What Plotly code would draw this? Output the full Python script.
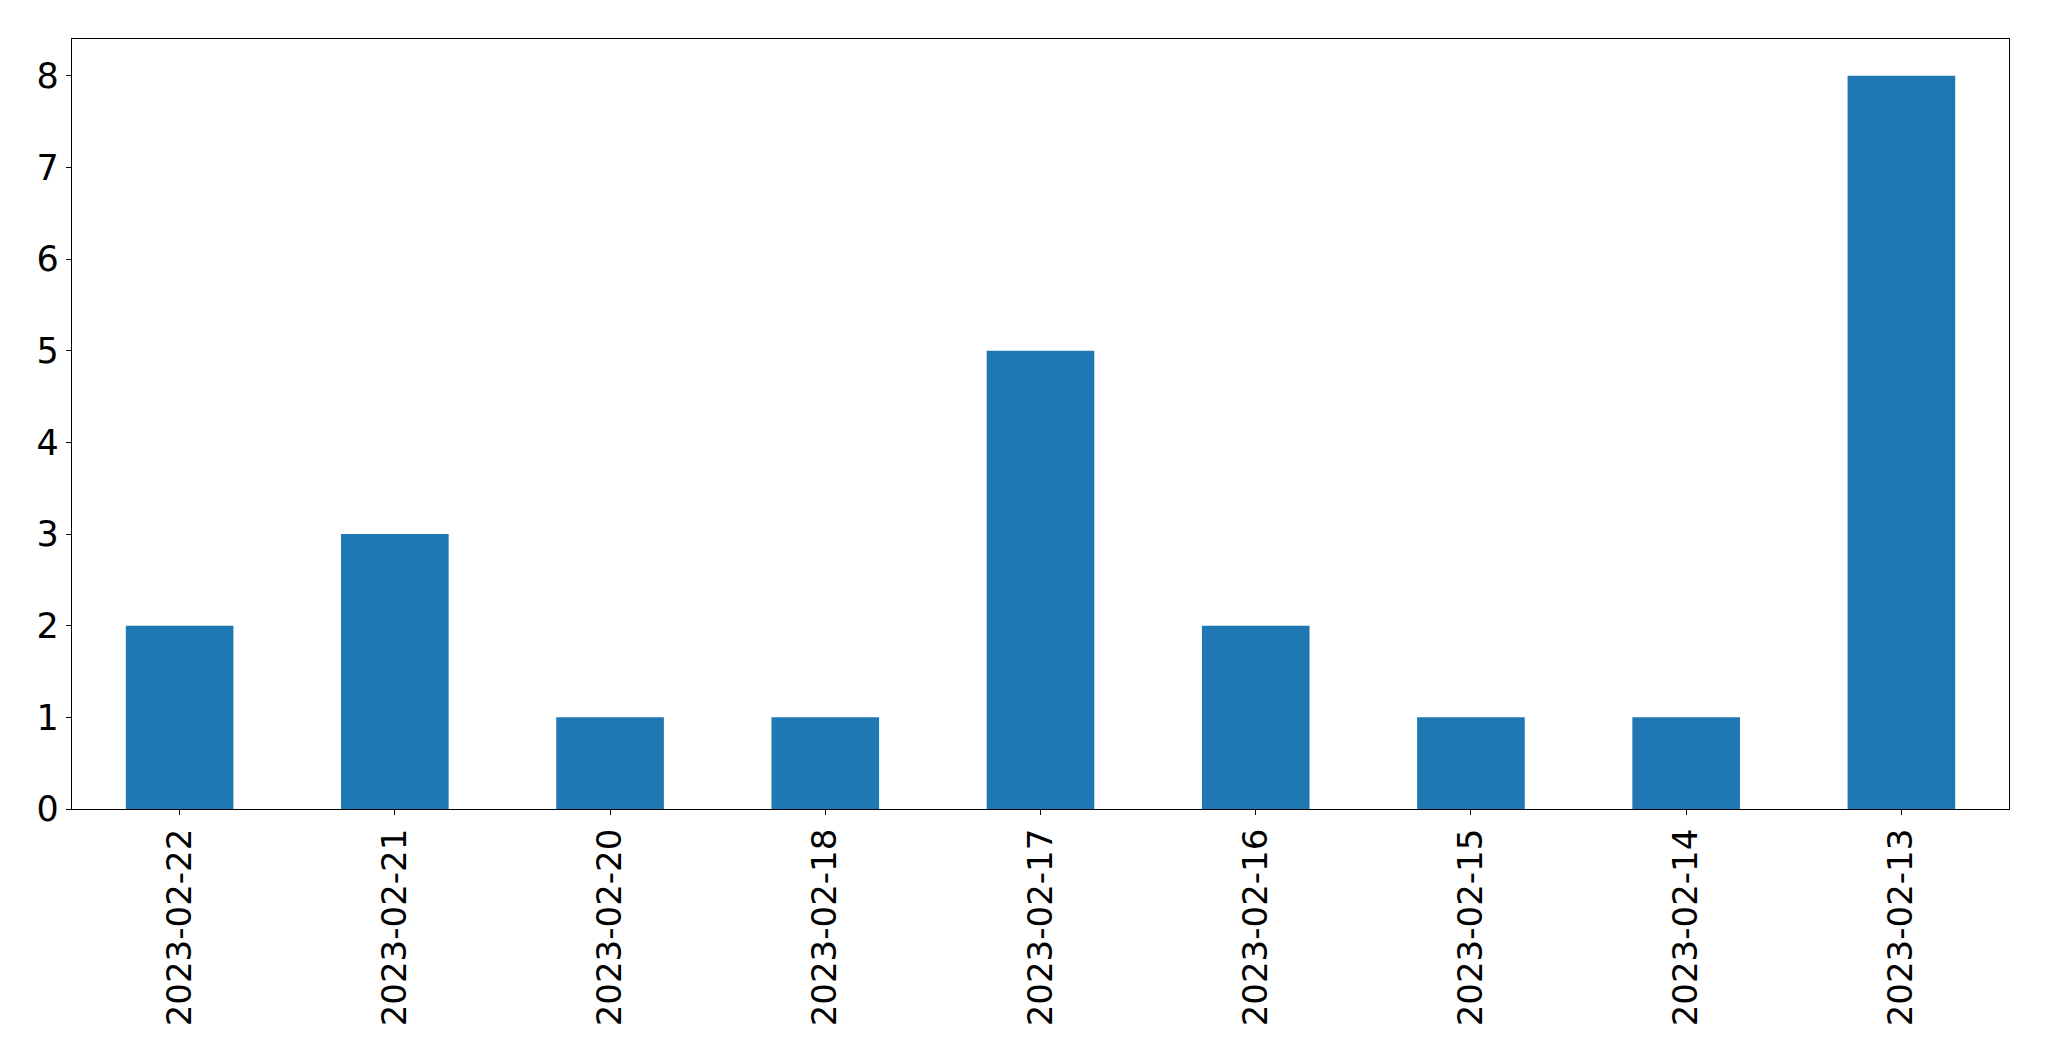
import plotly.graph_objects as go

dates = ["2023-02-22", "2023-02-21", "2023-02-20", "2023-02-18", "2023-02-17",
         "2023-02-16", "2023-02-15", "2023-02-14", "2023-02-13"]
counts = [2, 3, 1, 1, 5, 2, 1, 1, 8]
y_ticks = [0, 1, 2, 3, 4, 5, 6, 7, 8]

fig = go.Figure(go.Bar(x=dates, y=counts, width=0.5, marker=dict(color="#1f77b4", line=dict(width=0))))

# page body has an 8px margin, so the figure is 8px smaller and margins shifted
fig.update_layout(
    width=2041, height=1053,
    margin=dict(l=64, r=40, t=31, b=252, autoexpand=False),
    paper_bgcolor="white", plot_bgcolor="white",
    font=dict(family="DejaVu Sans", size=34, color="black"),
    showlegend=False,
)
fig.update_xaxes(
    type="category", range=[-0.5, 8.5], automargin=False,
    showline=True, linecolor="black", linewidth=1.2, mirror=True,
    ticks="outside", ticklen=5, tickwidth=1.1, tickcolor="black",
    tickangle=-90, showgrid=False, zeroline=False,
)
fig.update_yaxes(
    range=[0, 8.4], tickvals=y_ticks, automargin=False,
    showline=True, linecolor="black", linewidth=1.2, mirror=True,
    ticks="outside", ticklen=5, tickwidth=1.1, tickcolor="black",
    showgrid=False, zeroline=False, tickfont=dict(size=35),
)

fig.write_html("out.html")
